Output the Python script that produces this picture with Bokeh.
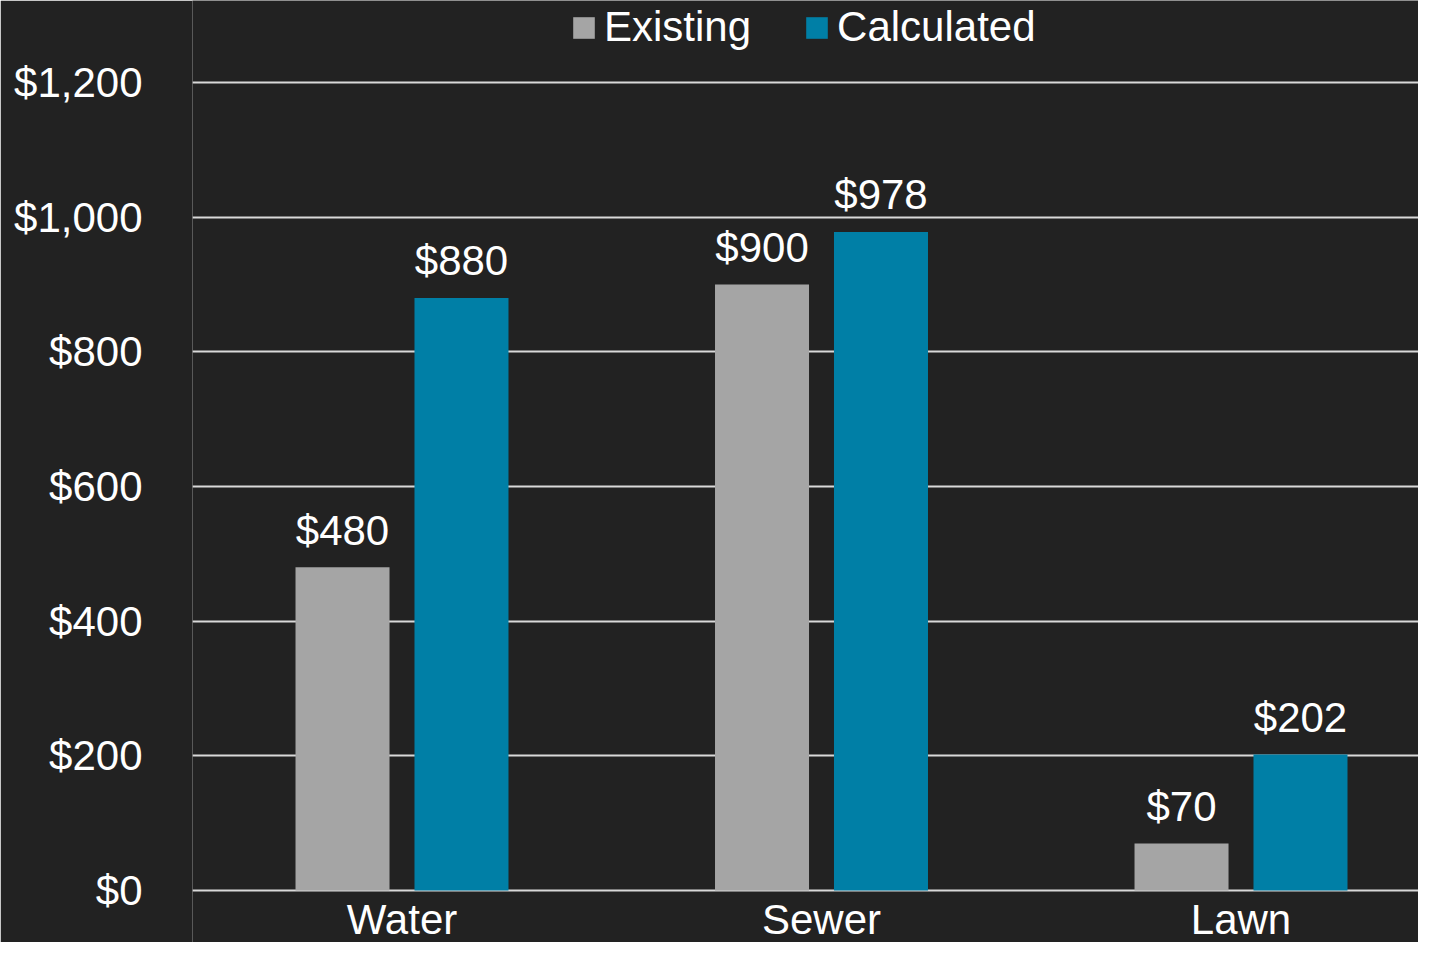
from bokeh.plotting import figure
from bokeh.models import Range1d, FixedTicker, ColumnDataSource, NumeralTickFormatter
from bokeh.core.properties import value
from bokeh.embed import file_html
from bokeh.resources import INLINE

categories = ["Water", "Sewer", "Lawn"]
existing = [480, 900, 70]
calculated = [880, 978, 202]
y_ticks = [0, 200, 400, 600, 800, 1000, 1200]
series_names = ["Existing", "Calculated"]
colors = ["#A5A5A5", "#007FA6"]

FONT = "Liberation Sans"
FS = "42px"
BG = "#222222"

centers = [i + 0.5 for i in range(len(categories))]
off = 0.1418
bw = 0.2241

p = figure(width=1418, height=942, output_backend="svg", toolbar_location=None,
           x_range=Range1d(0.0006, 2.9231), y_range=Range1d(-77.2, 1321.8),
           min_border_left=192, min_border_right=0, min_border_top=0, min_border_bottom=0)
p.background_fill_color = BG
p.border_fill_color = BG
p.outline_line_color = None

for vals, name, col, sign in [(existing, series_names[0], colors[0], -1), (calculated, series_names[1], colors[1], 1)]:
    xs = [c + sign * off for c in centers]
    src = ColumnDataSource(dict(x=xs, top=vals, label=["${:,}".format(v) for v in vals]))
    p.vbar(x="x", top="top", width=bw, bottom=0, source=src, fill_color=col, line_color=None,
           legend_label=name)
    p.text(x="x", y="top", text="label", source=src, text_align="center", text_baseline="alphabetic",
           y_offset=-37, text_color="#FFFFFF", text_font=value(FONT), text_font_size=FS)

# category labels along the zero line
cat_src = ColumnDataSource(dict(x=centers, y=[0] * len(centers), text=categories))
p.text(x="x", y="y", text="text", source=cat_src, text_align="center", text_baseline="top",
       y_offset=5, text_color="#FFFFFF", text_font=value(FONT), text_font_size=FS)

# axes
p.xaxis.visible = False
p.yaxis.ticker = FixedTicker(ticks=y_ticks)
p.yaxis.formatter = NumeralTickFormatter(format="$0,0")
p.yaxis.axis_line_color = None
p.yaxis.major_tick_line_color = None
p.yaxis.minor_tick_line_color = None
p.yaxis.major_tick_out = 0
p.yaxis.major_tick_in = 0
p.yaxis.major_label_standoff = 50
p.yaxis.major_label_text_font = FONT
p.yaxis.major_label_text_font_size = FS
p.yaxis.major_label_text_color = "#FFFFFF"

p.xgrid.grid_line_color = None
p.ygrid.grid_line_color = "#D9D9D9"
p.ygrid.grid_line_width = 2

lg = p.legend[0]
lg.orientation = "horizontal"
lg.location = (378, 891)
lg.background_fill_alpha = 0
lg.border_line_color = None
lg.padding = 0
lg.margin = 0
lg.spacing = 52
lg.label_standoff = 7
lg.glyph_width = 27
lg.glyph_height = 27
lg.label_text_font = FONT
lg.label_text_font_size = FS
lg.label_text_color = "#FFFFFF"

open("out.html", "w").write(file_html(p, INLINE))
